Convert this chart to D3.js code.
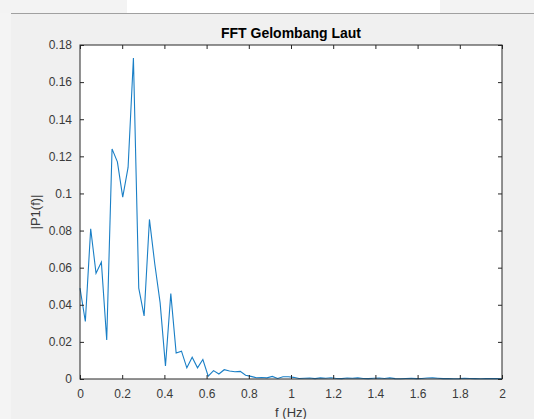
<!DOCTYPE html>
<html>
<head>
<meta charset="utf-8">
<script src="https://cdn.jsdelivr.net/npm/d3@7"></script>
<style>
  body { margin: 0; background: #f0f0f0; }
  svg { display: block; font-family: "Liberation Sans", Arial, sans-serif; }
</style>
</head>
<body>
<svg id="chart" width="534" height="419"></svg>
<script>
// FFT amplitude spectrum |P1(f)|
var df = 2 / 79;          // frequency step (Hz)
var amp = [
    0.049, 0.031, 0.081, 0.057, 0.063, 0.021, 0.124, 0.117, 0.098, 0.114,
    0.173, 0.049, 0.034, 0.086, 0.062, 0.041, 0.007, 0.046, 0.014, 0.015,
    0.006, 0.0117, 0.006, 0.0105, 0.0015, 0.0045, 0.0027, 0.005, 0.0043, 0.0039,
    0.0041, 0.002, 0.0014, 0.0007, 0.0008, 0.0006, 0.0014, 0.0003, 0.0012, 0.0012,
    0.0009, 0.0003, 0.0004, 0.0005, 0.0002, 0.0006, 0.0004, 0.0007, 0.0003, 0.0002,
    0.0005, 0.0004, 0.0006, 0.0003, 0.0002, 0.0004, 0.0005, 0.0003, 0.0006, 0.0002,
    0.0001, 0.0003, 0.0004, 0.0002, 0.0003, 0.0005, 0.0006, 0.0004, 0.0002, 0.0003,
    0.0001, 0.0002, 0.0004, 0.0003, 0.0002, 0.0001, 0.0002, 0.0003, 0.0002, 0.0001
];
var xTicks = [0, 0.2, 0.4, 0.6, 0.8, 1, 1.2, 1.4, 1.6, 1.8, 2];
var yTicks = [0, 0.02, 0.04, 0.06, 0.08, 0.1, 0.12, 0.14, 0.16, 0.18];
var title = "FFT Gelombang Laut";
var xLabel = "f (Hz)";
var yLabel = "|P1(f)|";

var svg = d3.select("#chart");
var W = 534, H = 419;
var padL = 80, padR = 502, padT = 45, padB = 379;
var axisColor = "#262626";
var textColor = "#3a3a3a";

// window chrome at the top
svg.append("rect").attr("width", W).attr("height", H).style("fill", "#f0f0f0");
svg.append("rect").attr("width", 11).attr("height", H).style("fill", "#f4f4f4");
svg.append("rect").attr("width", W).attr("height", 13).style("fill", "#f3f3f3");
svg.append("rect").attr("x", 127).attr("width", 313).attr("height", 13).style("fill", "#ffffff");
svg.append("line")
    .attr("x1", 11).attr("x2", W).attr("y1", 13.5).attr("y2", 13.5)
    .style("stroke", "#a0a0a0").style("stroke-width", 1.2);

var x = d3.scaleLinear().domain([0, 2]).range([padL, padR]);
var y = d3.scaleLinear().domain([0, 0.18]).range([padB, padT]);

// plot area
svg.append("rect")
    .attr("x", padL).attr("y", padT)
    .attr("width", padR - padL).attr("height", padB - padT)
    .style("fill", "#ffffff");

// spectrum line
var line = d3.line()
    .x(function (d, i) { return x(i * df); })
    .y(function (d) { return y(d); });

svg.append("path")
    .datum(amp)
    .attr("d", line)
    .style("fill", "none")
    .style("stroke", "#1a7fc6")
    .style("stroke-width", 1.1);

// axes (ticks inside, box on)
function styleAxis(g) {
    g.select(".domain").remove();
    g.selectAll("line").style("stroke", axisColor);
    g.selectAll("text").style("fill", textColor).style("font-size", "12px");
}
var fmt = function (d) { return String(d); };

svg.append("g").attr("transform", "translate(0," + padB + ")")
    .call(d3.axisBottom(x).tickValues(xTicks).tickFormat(fmt).tickSizeInner(-4).tickPadding(10))
    .call(styleAxis);
svg.append("g").attr("transform", "translate(0," + padT + ")")
    .call(d3.axisTop(x).tickValues(xTicks).tickFormat("").tickSizeInner(-4))
    .call(styleAxis);
svg.append("g").attr("transform", "translate(" + padL + ",0)")
    .call(d3.axisLeft(y).tickValues(yTicks).tickFormat(fmt).tickSizeInner(-4).tickPadding(8))
    .call(styleAxis);
svg.append("g").attr("transform", "translate(" + padR + ",0)")
    .call(d3.axisRight(y).tickValues(yTicks).tickFormat("").tickSizeInner(-4))
    .call(styleAxis);

svg.append("rect")
    .attr("x", padL).attr("y", padT)
    .attr("width", padR - padL).attr("height", padB - padT)
    .style("fill", "none")
    .style("stroke", axisColor)
    .style("stroke-width", 1);

// title and labels
svg.append("text")
    .attr("x", (padL + padR) / 2).attr("y", 38)
    .attr("text-anchor", "middle")
    .style("font-size", "14px").style("font-weight", "bold")
    .style("fill", "#000000")
    .text(title);

svg.append("text")
    .attr("x", (padL + padR) / 2).attr("y", 417)
    .attr("text-anchor", "middle")
    .style("font-size", "13px").style("fill", textColor)
    .text(xLabel);

svg.append("text")
    .attr("transform", "translate(40," + ((padT + padB) / 2) + ") rotate(-90)")
    .attr("text-anchor", "middle")
    .style("font-size", "13px").style("fill", textColor)
    .text(yLabel);
</script>
</body>
</html>
